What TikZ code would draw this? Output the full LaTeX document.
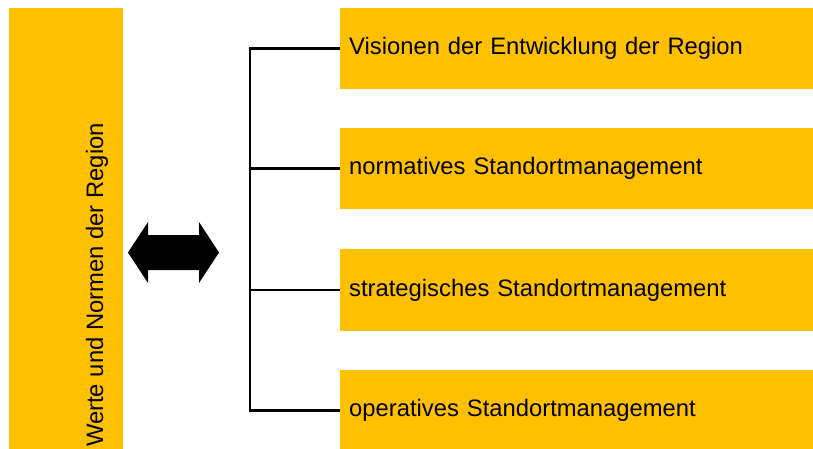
\documentclass[tikz,border=0pt]{standalone}
\usepackage{fontspec}
\setmainfont{Liberation Sans}
\definecolor{gold}{HTML}{FFC000}

\begin{document}
\begin{tikzpicture}[x=1pt,y=-1pt,
  levelbox/.style={fill=gold,anchor=west,minimum height=81.5pt,inner xsep=9pt,
    text width=455pt,align=left,font=\fontsize{23.8}{28}\selectfont},
  branch/.style={line width=2.2pt}]
\useasboundingbox (0,0) rectangle (813,448);

% Coloring ..
\path[fill=gold] (9,8) rectangle (123,460); % Werte bar

% Writing
\node[rotate=90,font=\fontsize{23.8}{28}\selectfont] (werte) at (97,285) {Werte und Normen der Region};
\node[levelbox] (vis) at (340,48.5) {Visionen der Entwicklung der Region}; % Levels
\node[levelbox] (norm) at (340,168.5) {normatives Standortmanagement};
\node[levelbox] (strat) at (340,290) {strategisches Standortmanagement};
\node[levelbox] (oper) at (340,410.5) {operatives Standortmanagement};

% double arrow
\fill[black,shift={(173.5,252.5)}] (-45.5,0) -- (-25.5,-30.5) -- (-25.5,-17.5) -- (25.5,-17.5)
  -- (25.5,-30.5) -- (45.5,0) -- (25.5,30.5) -- (25.5,17.5) -- (-25.5,17.5) -- (-25.5,30.5) -- cycle;

% creating tree
\draw[branch] (vis.west) -- ++(-90,0) |- (oper.west); % Vertical
\draw[branch] (norm.west) -- ++(-90,0);
\draw[branch] (strat.west) -- ++(-90,0);
\end{tikzpicture}
\end{document}
